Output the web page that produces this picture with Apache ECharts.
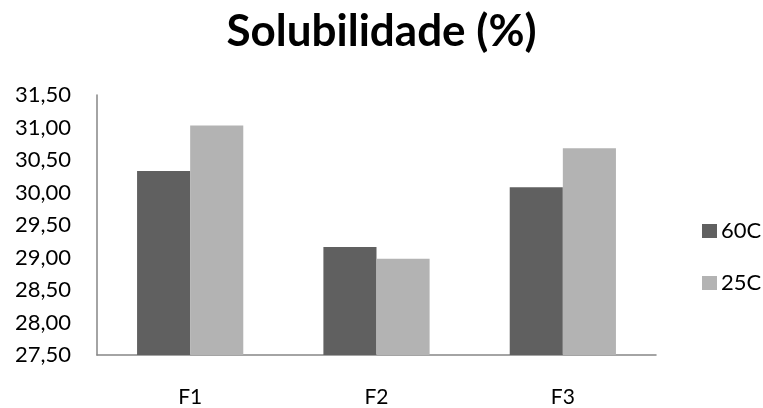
<!DOCTYPE html>
<html>
<head>
<meta charset="utf-8">
<script src="https://cdn.jsdelivr.net/npm/echarts@6/dist/echarts.min.js"></script>
<style>
  html, body { margin: 0; padding: 0; background: #fff; }
  #chart { width: 763px; height: 408px; }
</style>
</head>
<body>
<div id="chart"></div>
<script>
// Solubility per formulation at two temperatures
const categories = ['F1', 'F2', 'F3'];
const series60C = [30.33, 29.16, 30.08];
const series25C = [31.03, 28.98, 30.68];
const yTicks = { min: 27.5, max: 31.5, step: 0.5 };

const chart = echarts.init(document.getElementById('chart'));
const font = 'Lato, "Open Sans", sans-serif';

chart.setOption({
  animation: false,
  title: {
    text: 'Solubilidade (%)',
    left: 'center',
    top: 5,
    textStyle: { fontFamily: font, fontWeight: 'bold', fontSize: 44, color: '#000' }
  },
  legend: {
    orient: 'vertical',
    left: 697,
    top: 215,
    itemWidth: 15,
    itemHeight: 14,
    itemGap: 30,
    icon: 'rect',
    textStyle: { fontFamily: font, fontSize: 22, lineHeight: 22, color: '#000', padding: [0, 0, 0, -1] },
    data: ['60C', '25C']
  },
  grid: { left: 97, right: 107, top: 95, bottom: 53 },
  xAxis: {
    type: 'category',
    data: categories,
    axisLine: { lineStyle: { color: '#868686', width: 1.5 } },
    axisTick: { show: false },
    axisLabel: { fontFamily: font, fontSize: 21, color: '#000', margin: 32 }
  },
  yAxis: {
    type: 'value',
    min: yTicks.min,
    max: yTicks.max,
    interval: yTicks.step,
    axisLine: { show: true, lineStyle: { color: '#868686', width: 1.5 } },
    axisTick: { show: false },
    splitLine: { show: false },
    axisLabel: {
      fontFamily: font, fontSize: 22, color: '#000', margin: 26,
      formatter: v => v.toFixed(2).replace('.', ',')
    }
  },
  series: [
    {
      name: '60C', type: 'bar', data: series60C,
      barGap: '0%', barCategoryGap: '43%',
      itemStyle: { color: '#606060' }
    },
    {
      name: '25C', type: 'bar', data: series25C,
      barGap: '0%', barCategoryGap: '43%',
      itemStyle: { color: '#b3b3b3' }
    }
  ]
});
</script>
</body>
</html>
